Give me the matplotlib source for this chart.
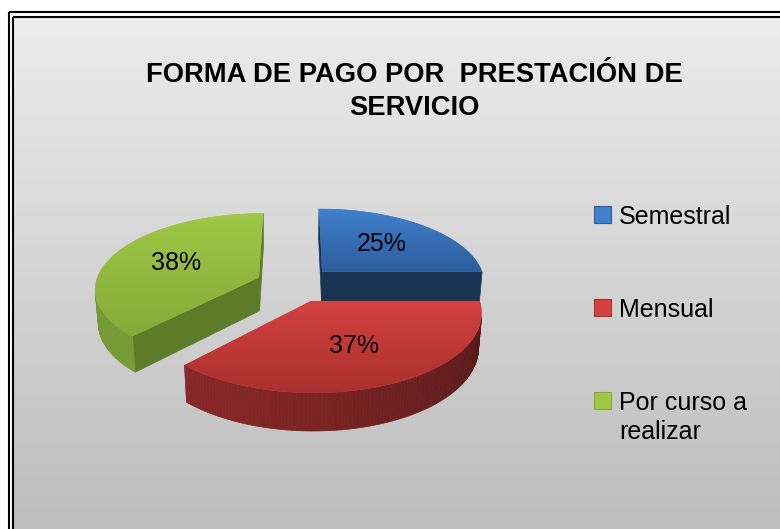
import math
import numpy as np
import matplotlib
matplotlib.use("Agg")
import matplotlib.pyplot as plt
from matplotlib.patches import Polygon, Rectangle
from matplotlib.colors import to_rgb

# data
labels = ["Semestral", "Mensual", "Por curso a\nrealizar"]
shares = [25, 37, 38]
title_lines = ["FORMA DE PAGO POR  PRESTACIÓN DE", "SERVICIO"]

# colours: top face (upper, lower), side face
top_hi = ["#4080cc", "#d34141", "#9ec846"]
top_lo = ["#2c5d9d", "#aa302e", "#86aa38"]
side_col = ["#1b3353", "#6c1f1f", "#5e7b2a"]

W, H = 780, 529
# 3d view of the pie (pixels / radians)
CX, CY = 295, 284       # screen position of the pie centre
R = 163.6               # radius in pixels
ELEV = math.radians(27.1)
DIST = 6.59             # camera distance, in radii
DEPTH = 0.235           # thickness, in radii
EXPLODE = 0.24
LABEL_R = 0.57


def project(X, Z, Y=0.0):
    yc = Y * math.cos(ELEV) + Z * math.sin(ELEV)
    dc = -Y * math.sin(ELEV) + Z * math.cos(ELEV)
    s = DIST / (DIST + dc)
    return CX + R * X * s, CY - R * yc * s


cam = np.array([0.0, DIST * math.sin(ELEV), -DIST * math.cos(ELEV)])


def facing(normal, point):
    return np.dot(normal, cam - np.array(point)) > 0


fig = plt.figure(figsize=(W / 100, H / 100), dpi=100)
ax = fig.add_axes([0, 0, 1, 1])
ax.axis("off")

# background gradient and double frame
grad = np.linspace(0.925, 0.74, 256).reshape(-1, 1)
ax.imshow(np.dstack([grad] * 3), extent=[13, W + 5, H + 5, 16.5],
          aspect="auto", zorder=0)
for x0, y0 in [(8.5, 11.5), (13, 16.5)]:
    ax.add_patch(Rectangle((x0, y0), W, H, fill=False, ec="black",
                           lw=1.5, zorder=1))

# pie slices, clockwise from 12 o'clock
fracs = np.array(shares) / sum(shares)
edges = np.concatenate([[0], np.cumsum(fracs)]) * 2 * math.pi
slices = []
for i in range(len(shares)):
    t0, t1 = edges[i], edges[i + 1]
    tm = (t0 + t1) / 2
    ox, oz = EXPLODE * math.sin(tm), EXPLODE * math.cos(tm)
    slices.append((oz, i, t0, t1, tm, ox))
slices.sort(reverse=True)        # far slices first

for oz, i, t0, t1, tm, ox in slices:
    th = np.linspace(t0, t1, 120)
    rx = ox + np.sin(th)
    rz = oz + np.cos(th)
    z = 10 - oz * 10
    # radial cut faces
    for t, nt in [(t0, t0 - math.pi / 2), (t1, t1 + math.pi / 2)]:
        n = np.array([math.sin(nt), 0, math.cos(nt)])
        if facing(n, (ox, 0, oz)):
            px, pz = ox + math.sin(t), oz + math.cos(t)
            pts = [project(ox, oz), project(px, pz),
                   project(px, pz, -DEPTH), project(ox, oz, -DEPTH)]
            ax.add_patch(Polygon(pts, fc=side_col[i], ec=side_col[i],
                                 lw=0.5, zorder=z))
    # curved outer side
    base = np.array(to_rgb(side_col[i]))
    for k in range(len(th) - 1):
        m = (th[k] + th[k + 1]) / 2
        n = np.array([math.sin(m), 0, math.cos(m)])
        if not facing(n, (rx[k], 0, rz[k])):
            continue
        f = 1 + 0.26 * math.cos(m - math.radians(240))
        c = np.clip(base * f, 0, 1)
        pts = [project(rx[k], rz[k]), project(rx[k + 1], rz[k + 1]),
               project(rx[k + 1], rz[k + 1], -DEPTH),
               project(rx[k], rz[k], -DEPTH)]
        ax.add_patch(Polygon(pts, fc=c, ec=c, lw=0.5, zorder=z))
    # top face with vertical gradient
    top = [project(ox, oz)] + [project(a, b) for a, b in zip(rx, rz)]
    poly = Polygon(top, fc=top_hi[i], ec="none", zorder=z + 0.1)
    ax.add_patch(poly)
    ys = [p[1] for p in top]
    xs = [p[0] for p in top]
    c0, c1 = np.array(to_rgb(top_hi[i])), np.array(to_rgb(top_lo[i]))
    g = np.linspace(0, 1, 128).reshape(-1, 1, 1)
    img = c0 + (c1 - c0) * g
    im = ax.imshow(np.repeat(img, 2, axis=1),
                   extent=[min(xs), max(xs), max(ys), min(ys)],
                   aspect="auto", zorder=z + 0.2)
    im.set_clip_path(poly)
    # percentage label
    lx = ox + LABEL_R * math.sin(tm)
    lz = oz + LABEL_R * math.cos(tm)
    px, py = project(lx, lz)
    ax.text(px, py, f"{shares[i]}%", ha="center", va="center",
            fontsize=18, family="Liberation Sans", color="black",
            zorder=z + 1)

ax.set_xlim(0, W)
ax.set_ylim(H, 0)

# title
for j, line in enumerate(title_lines):
    ax.text(414, 75 + 33 * j, line, ha="center", va="center",
            fontsize=19.7, fontweight="bold",
            family="Liberation Sans", zorder=20)

# legend
leg_y = [214, 307, 400]
for i, lab in enumerate(labels):
    ax.add_patch(Rectangle((594, leg_y[i] - 8.5), 17, 17,
                           fc=top_hi[i], ec=top_lo[i], lw=0.8, zorder=20))
    ax.text(619, leg_y[i] - 9, lab, ha="left", va="top", fontsize=18,
            family="Liberation Sans", linespacing=1.25, zorder=20)

fig.savefig("out.png", dpi=100)
